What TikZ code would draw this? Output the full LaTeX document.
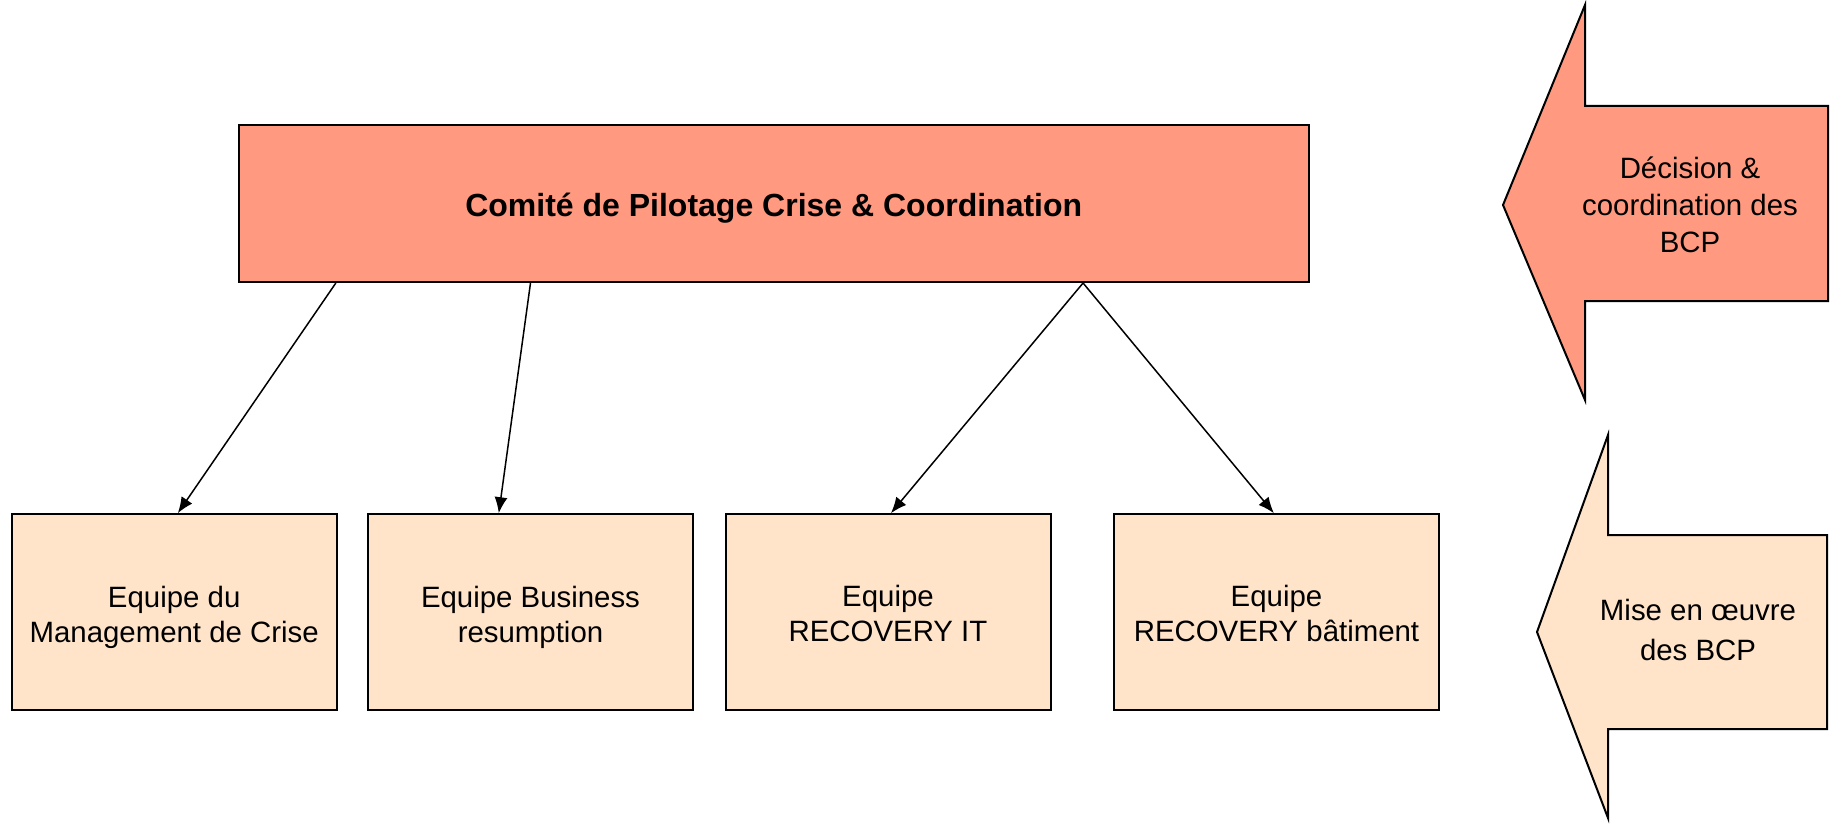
\documentclass[tikz,border=0pt]{standalone}
\usepackage{fontspec}
\setmainfont{Liberation Sans}
\usetikzlibrary{arrows.meta,calc}
\definecolor{salmon}{RGB}{255,153,128}
\definecolor{peach}{RGB}{255,228,202}
\begin{document}
\begin{tikzpicture}[x=0.5pt,y=-0.5pt,
 box/.style={draw=black,line width=1pt,inner sep=0pt},
 team/.style={box,fill=peach,minimum width=162.5pt,minimum height=97.8pt},
 txt/.style={align=center,inner sep=0pt,font=\fontsize{14.7}{17.5}\selectfont},
 link/.style={line width=0.75pt,-{Latex[length=8pt,width=6.5pt]}},
 bigarrow/.style={draw=black,line width=1pt,line join=miter},
]
\useasboundingbox (0,0) rectangle (1833,829);
\node[box,fill=salmon,minimum width=535.25pt,minimum height=78.5pt] (top) at (773.75,203.5) {};
\node[txt,font=\bfseries\fontsize{16}{19}\selectfont] (toptxt) at (773.75,208) {Comité de Pilotage Crise \& Coordination};
\node[team] (t1) at (174.2,612) {};
\node[team] (t2) at (530.5,612) {};
\node[team] (t3) at (888,612) {};
\node[team] (t4) at (1276.5,612) {};
\node[txt] (t1txt) at ($(t1)+(0,5)$) {Equipe du\\Management de Crise};
\node[txt] (t2txt) at ($(t2)+(0,5)$) {Equipe Business\\resumption};
\node[txt] (t3txt) at ($(t3)+(0,1.5)$) {Equipe\\RECOVERY IT};
\node[txt] (t4txt) at ($(t4)+(0,1.5)$) {Equipe\\RECOVERY bâtiment};
\draw[link] ($(top.south west)!0.0917!(top.south east)$) -- ($(t1.north west)!0.511!(t1.north east)$);
\draw[link] ($(top.south west)!0.2732!(top.south east)$) -- ($(t2.north west)!0.403!(t2.north east)$);
\draw[link] ($(top.south west)!0.7884!(top.south east)$) -- ($(t3.north west)!0.509!(t3.north east)$);
\draw[link] ($(top.south west)!0.7884!(top.south east)$) -- ($(t4.north west)!0.492!(t4.north east)$);
\draw[bigarrow,fill=salmon] (1503,205) -- (1585,5) -- (1585,106) -- (1828,106) -- (1828,301) -- (1585,301) -- (1585,400) -- cycle;
\node[txt,font=\fontsize{14.7}{18.4}\selectfont] (d1) at (1690,205) {Décision \&\\coordination des\\BCP};
\draw[bigarrow,fill=peach] (1537,632) -- (1608,435) -- (1608,535) -- (1827,535) -- (1827,729) -- (1608,729) -- (1608,818) -- cycle;
\node[txt,font=\fontsize{14.7}{20}\selectfont] (d2) at (1698,630) {Mise en œuvre\\des BCP};
\end{tikzpicture}
\end{document}
